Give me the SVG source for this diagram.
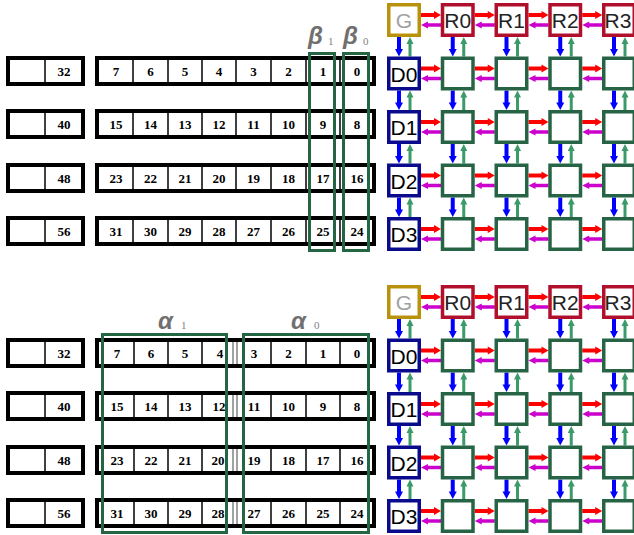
<svg xmlns="http://www.w3.org/2000/svg" xmlns:xlink="http://www.w3.org/1999/xlink" width="634" height="535" viewBox="0 0 634 535">
<style>
.rowbox{fill:#fff;stroke:#000;stroke-width:4}
.div{stroke:#000;stroke-width:1.5}
.divg{stroke:#444;stroke-width:1}
.num{font-family:"Liberation Serif",serif;font-weight:bold;font-size:13px;text-anchor:middle;fill:#000}
.sel{fill:none;stroke:#246644;stroke-width:3}
.greek{font-family:"Liberation Sans",Arial,sans-serif;font-weight:bold;font-style:italic;font-size:24px;fill:#707070}
.sub{font-family:"Liberation Serif",serif;font-size:11px;fill:#808080}
.gb{fill:#fff;stroke:#b8920c;stroke-width:3.5}
.rb{fill:#fff;stroke:#b0102c;stroke-width:3.5}
.db{fill:#fff;stroke:#0a0a8c;stroke-width:3.5}
.nb{fill:#fff;stroke:#276446;stroke-width:3.5}
.lbl{font-family:"Liberation Sans",Arial,sans-serif;font-size:21px;text-anchor:middle;fill:#222}
</style>
<defs>
<g id="hpair">
<line x1="0" y1="12" x2="14" y2="12" stroke="#ff0000" stroke-width="4"/>
<polygon points="13,8 20,12 13,16" fill="#ff0000"/>
<polygon points="0,22 7,18.5 7,25.5" fill="#cc00cc"/>
<line x1="6" y1="22" x2="20" y2="22" stroke="#cc00cc" stroke-width="3.5"/>
</g>
<g id="vpair">
<line x1="12" y1="0" x2="12" y2="13" stroke="#0000ff" stroke-width="4"/>
<polygon points="8,12 12,19.5 16,12" fill="#0000ff"/>
<polygon points="23,0 19.5,7 26.5,7" fill="#3a9a6a"/>
<line x1="23" y1="6" x2="23" y2="19.5" stroke="#3a9a6a" stroke-width="3"/>
</g>
</defs>
<rect width="634" height="535" fill="#fff"/>

<!-- TOP SECTION: register rows -->
<g id="top-rows">
<g id="t-row0">
<rect class="rowbox" x="8" y="58" width="75" height="26"/><line class="div" x1="45" y1="58" x2="45" y2="84"/>
<text class="num" x="64" y="75.5">32</text>
<rect class="rowbox" x="97" y="58" width="277" height="26"/>
<line class="div" x1="133" y1="58" x2="133" y2="84"/><line class="div" x1="168" y1="58" x2="168" y2="84"/><line class="div" x1="202" y1="58" x2="202" y2="84"/><line class="div" x1="236" y1="58" x2="236" y2="84"/><line class="div" x1="271" y1="58" x2="271" y2="84"/><line class="div" x1="306" y1="58" x2="306" y2="84"/><line class="div" x1="340" y1="58" x2="340" y2="84"/>
<text class="num" x="116" y="75.5">7</text><text class="num" x="150.5" y="75.5">6</text><text class="num" x="185" y="75.5">5</text><text class="num" x="219" y="75.5">4</text><text class="num" x="253.5" y="75.5">3</text><text class="num" x="288.5" y="75.5">2</text><text class="num" x="323" y="75.5">1</text><text class="num" x="357" y="75.5">0</text>
</g>
<g id="t-row1">
<rect class="rowbox" x="8" y="111" width="75" height="26"/><line class="div" x1="45" y1="111" x2="45" y2="137"/>
<text class="num" x="64" y="128.5">40</text>
<rect class="rowbox" x="97" y="111" width="277" height="26"/>
<line class="div" x1="133" y1="111" x2="133" y2="137"/><line class="div" x1="168" y1="111" x2="168" y2="137"/><line class="div" x1="202" y1="111" x2="202" y2="137"/><line class="div" x1="236" y1="111" x2="236" y2="137"/><line class="div" x1="271" y1="111" x2="271" y2="137"/><line class="div" x1="306" y1="111" x2="306" y2="137"/><line class="div" x1="340" y1="111" x2="340" y2="137"/>
<text class="num" x="116" y="128.5">15</text><text class="num" x="150.5" y="128.5">14</text><text class="num" x="185" y="128.5">13</text><text class="num" x="219" y="128.5">12</text><text class="num" x="253.5" y="128.5">11</text><text class="num" x="288.5" y="128.5">10</text><text class="num" x="323" y="128.5">9</text><text class="num" x="357" y="128.5">8</text>
</g>
<g id="t-row2">
<rect class="rowbox" x="8" y="165" width="75" height="26"/><line class="div" x1="45" y1="165" x2="45" y2="191"/>
<text class="num" x="64" y="182.5">48</text>
<rect class="rowbox" x="97" y="165" width="277" height="26"/>
<line class="div" x1="133" y1="165" x2="133" y2="191"/><line class="div" x1="168" y1="165" x2="168" y2="191"/><line class="div" x1="202" y1="165" x2="202" y2="191"/><line class="div" x1="236" y1="165" x2="236" y2="191"/><line class="div" x1="271" y1="165" x2="271" y2="191"/><line class="div" x1="306" y1="165" x2="306" y2="191"/><line class="div" x1="340" y1="165" x2="340" y2="191"/>
<text class="num" x="116" y="182.5">23</text><text class="num" x="150.5" y="182.5">22</text><text class="num" x="185" y="182.5">21</text><text class="num" x="219" y="182.5">20</text><text class="num" x="253.5" y="182.5">19</text><text class="num" x="288.5" y="182.5">18</text><text class="num" x="323" y="182.5">17</text><text class="num" x="357" y="182.5">16</text>
</g>
<g id="t-row3">
<rect class="rowbox" x="8" y="218" width="75" height="26"/><line class="div" x1="45" y1="218" x2="45" y2="244"/>
<text class="num" x="64" y="235.5">56</text>
<rect class="rowbox" x="97" y="218" width="277" height="26"/>
<line class="div" x1="133" y1="218" x2="133" y2="244"/><line class="div" x1="168" y1="218" x2="168" y2="244"/><line class="div" x1="202" y1="218" x2="202" y2="244"/><line class="div" x1="236" y1="218" x2="236" y2="244"/><line class="div" x1="271" y1="218" x2="271" y2="244"/><line class="div" x1="306" y1="218" x2="306" y2="244"/><line class="div" x1="340" y1="218" x2="340" y2="244"/>
<text class="num" x="116" y="235.5">31</text><text class="num" x="150.5" y="235.5">30</text><text class="num" x="185" y="235.5">29</text><text class="num" x="219" y="235.5">28</text><text class="num" x="253.5" y="235.5">27</text><text class="num" x="288.5" y="235.5">26</text><text class="num" x="323" y="235.5">25</text><text class="num" x="357" y="235.5">24</text>
</g>
</g>
<g id="beta1"><rect class="sel" x="309.5" y="53.5" width="25" height="197"/><text class="greek" x="308" y="44">β</text><text class="sub" x="328" y="45">1</text></g>
<g id="beta0"><rect class="sel" x="343.5" y="53.5" width="25" height="197"/><text class="greek" x="343" y="44">β</text><text class="sub" x="363" y="45">0</text></g>

<!-- BOTTOM SECTION: register rows -->
<g id="bottom-rows">
<g id="b-row0">
<rect class="rowbox" x="8" y="340" width="75" height="26"/><line class="div" x1="45" y1="340" x2="45" y2="366"/>
<text class="num" x="64" y="357.5">32</text>
<rect class="rowbox" x="97" y="340" width="277" height="26"/>
<line class="div" x1="134" y1="340" x2="134" y2="366"/><line class="div" x1="168" y1="340" x2="168" y2="366"/><line class="div" x1="202" y1="340" x2="202" y2="366"/><line class="divg" x1="233" y1="342" x2="233" y2="364"/><line class="divg" x1="237" y1="342" x2="237" y2="364"/><line class="div" x1="271" y1="340" x2="271" y2="366"/><line class="div" x1="306" y1="340" x2="306" y2="366"/><line class="div" x1="340" y1="340" x2="340" y2="366"/>
<text class="num" x="117" y="357.5">7</text><text class="num" x="151" y="357.5">6</text><text class="num" x="185" y="357.5">5</text><text class="num" x="220" y="357.5">4</text><text class="num" x="254" y="357.5">3</text><text class="num" x="288.5" y="357.5">2</text><text class="num" x="323" y="357.5">1</text><text class="num" x="357" y="357.5">0</text>
</g>
<g id="b-row1">
<rect class="rowbox" x="8" y="393" width="75" height="26"/><line class="div" x1="45" y1="393" x2="45" y2="419"/>
<text class="num" x="64" y="410.5">40</text>
<rect class="rowbox" x="97" y="393" width="277" height="26"/>
<line class="div" x1="134" y1="393" x2="134" y2="419"/><line class="div" x1="168" y1="393" x2="168" y2="419"/><line class="div" x1="202" y1="393" x2="202" y2="419"/><line class="divg" x1="233" y1="395" x2="233" y2="417"/><line class="divg" x1="237" y1="395" x2="237" y2="417"/><line class="div" x1="271" y1="393" x2="271" y2="419"/><line class="div" x1="306" y1="393" x2="306" y2="419"/><line class="div" x1="340" y1="393" x2="340" y2="419"/>
<text class="num" x="117" y="410.5">15</text><text class="num" x="151" y="410.5">14</text><text class="num" x="185" y="410.5">13</text><text class="num" x="219" y="410.5">12</text><text class="num" x="254" y="410.5">11</text><text class="num" x="288.5" y="410.5">10</text><text class="num" x="323" y="410.5">9</text><text class="num" x="357" y="410.5">8</text>
</g>
<g id="b-row2">
<rect class="rowbox" x="8" y="447" width="75" height="26"/><line class="div" x1="45" y1="447" x2="45" y2="473"/>
<text class="num" x="64" y="464.5">48</text>
<rect class="rowbox" x="97" y="447" width="277" height="26"/>
<line class="div" x1="134" y1="447" x2="134" y2="473"/><line class="div" x1="168" y1="447" x2="168" y2="473"/><line class="div" x1="202" y1="447" x2="202" y2="473"/><line class="divg" x1="233" y1="449" x2="233" y2="471"/><line class="divg" x1="237" y1="449" x2="237" y2="471"/><line class="div" x1="271" y1="447" x2="271" y2="473"/><line class="div" x1="306" y1="447" x2="306" y2="473"/><line class="div" x1="340" y1="447" x2="340" y2="473"/>
<text class="num" x="117" y="464.5">23</text><text class="num" x="151" y="464.5">22</text><text class="num" x="185" y="464.5">21</text><text class="num" x="218" y="464.5">20</text><text class="num" x="254" y="464.5">19</text><text class="num" x="288.5" y="464.5">18</text><text class="num" x="323" y="464.5">17</text><text class="num" x="357" y="464.5">16</text>
</g>
<g id="b-row3">
<rect class="rowbox" x="8" y="500" width="75" height="26"/><line class="div" x1="45" y1="500" x2="45" y2="526"/>
<text class="num" x="64" y="517.5">56</text>
<rect class="rowbox" x="97" y="500" width="277" height="26"/>
<line class="div" x1="134" y1="500" x2="134" y2="526"/><line class="div" x1="168" y1="500" x2="168" y2="526"/><line class="div" x1="202" y1="500" x2="202" y2="526"/><line class="divg" x1="233" y1="502" x2="233" y2="524"/><line class="divg" x1="237" y1="502" x2="237" y2="524"/><line class="div" x1="271" y1="500" x2="271" y2="526"/><line class="div" x1="306" y1="500" x2="306" y2="526"/><line class="div" x1="340" y1="500" x2="340" y2="526"/>
<text class="num" x="117" y="517.5">31</text><text class="num" x="151" y="517.5">30</text><text class="num" x="185" y="517.5">29</text><text class="num" x="218" y="517.5">28</text><text class="num" x="254" y="517.5">27</text><text class="num" x="288.5" y="517.5">26</text><text class="num" x="323" y="517.5">25</text><text class="num" x="357" y="517.5">24</text>
</g>
</g>
<g id="alpha1"><rect class="sel" x="102.5" y="334.5" width="124" height="198"/><text class="greek" x="158" y="329">α</text><text class="sub" x="181" y="329">1</text></g>
<g id="alpha0"><rect class="sel" x="243.5" y="334.5" width="125" height="198"/><text class="greek" x="291" y="329">α</text><text class="sub" x="314" y="329">0</text></g>

<!-- CONNECTORS -->
<g id="connectors">
<use xlink:href="#hpair" x="421" y="3"/><use xlink:href="#hpair" x="474.75" y="3"/><use xlink:href="#hpair" x="528.5" y="3"/><use xlink:href="#hpair" x="582.25" y="3"/>
<use xlink:href="#hpair" x="421" y="56.5"/><use xlink:href="#hpair" x="474.75" y="56.5"/><use xlink:href="#hpair" x="528.5" y="56.5"/><use xlink:href="#hpair" x="582.25" y="56.5"/>
<use xlink:href="#hpair" x="421" y="110"/><use xlink:href="#hpair" x="474.75" y="110"/><use xlink:href="#hpair" x="528.5" y="110"/><use xlink:href="#hpair" x="582.25" y="110"/>
<use xlink:href="#hpair" x="421" y="163.5"/><use xlink:href="#hpair" x="474.75" y="163.5"/><use xlink:href="#hpair" x="528.5" y="163.5"/><use xlink:href="#hpair" x="582.25" y="163.5"/>
<use xlink:href="#hpair" x="421" y="217"/><use xlink:href="#hpair" x="474.75" y="217"/><use xlink:href="#hpair" x="528.5" y="217"/><use xlink:href="#hpair" x="582.25" y="217"/>
<use xlink:href="#vpair" x="387" y="37"/><use xlink:href="#vpair" x="440.75" y="37"/><use xlink:href="#vpair" x="494.5" y="37"/><use xlink:href="#vpair" x="548.25" y="37"/><use xlink:href="#vpair" x="602" y="37"/>
<use xlink:href="#vpair" x="387" y="90.5"/><use xlink:href="#vpair" x="440.75" y="90.5"/><use xlink:href="#vpair" x="494.5" y="90.5"/><use xlink:href="#vpair" x="548.25" y="90.5"/><use xlink:href="#vpair" x="602" y="90.5"/>
<use xlink:href="#vpair" x="387" y="144"/><use xlink:href="#vpair" x="440.75" y="144"/><use xlink:href="#vpair" x="494.5" y="144"/><use xlink:href="#vpair" x="548.25" y="144"/><use xlink:href="#vpair" x="602" y="144"/>
<use xlink:href="#vpair" x="387" y="197.5"/><use xlink:href="#vpair" x="440.75" y="197.5"/><use xlink:href="#vpair" x="494.5" y="197.5"/><use xlink:href="#vpair" x="548.25" y="197.5"/><use xlink:href="#vpair" x="602" y="197.5"/>
<use xlink:href="#hpair" x="421" y="285"/><use xlink:href="#hpair" x="474.75" y="285"/><use xlink:href="#hpair" x="528.5" y="285"/><use xlink:href="#hpair" x="582.25" y="285"/>
<use xlink:href="#hpair" x="421" y="338.5"/><use xlink:href="#hpair" x="474.75" y="338.5"/><use xlink:href="#hpair" x="528.5" y="338.5"/><use xlink:href="#hpair" x="582.25" y="338.5"/>
<use xlink:href="#hpair" x="421" y="392"/><use xlink:href="#hpair" x="474.75" y="392"/><use xlink:href="#hpair" x="528.5" y="392"/><use xlink:href="#hpair" x="582.25" y="392"/>
<use xlink:href="#hpair" x="421" y="445.5"/><use xlink:href="#hpair" x="474.75" y="445.5"/><use xlink:href="#hpair" x="528.5" y="445.5"/><use xlink:href="#hpair" x="582.25" y="445.5"/>
<use xlink:href="#hpair" x="421" y="499"/><use xlink:href="#hpair" x="474.75" y="499"/><use xlink:href="#hpair" x="528.5" y="499"/><use xlink:href="#hpair" x="582.25" y="499"/>
<use xlink:href="#vpair" x="387" y="319"/><use xlink:href="#vpair" x="440.75" y="319"/><use xlink:href="#vpair" x="494.5" y="319"/><use xlink:href="#vpair" x="548.25" y="319"/><use xlink:href="#vpair" x="602" y="319"/>
<use xlink:href="#vpair" x="387" y="372.5"/><use xlink:href="#vpair" x="440.75" y="372.5"/><use xlink:href="#vpair" x="494.5" y="372.5"/><use xlink:href="#vpair" x="548.25" y="372.5"/><use xlink:href="#vpair" x="602" y="372.5"/>
<use xlink:href="#vpair" x="387" y="426"/><use xlink:href="#vpair" x="440.75" y="426"/><use xlink:href="#vpair" x="494.5" y="426"/><use xlink:href="#vpair" x="548.25" y="426"/><use xlink:href="#vpair" x="602" y="426"/>
<use xlink:href="#vpair" x="387" y="479.5"/><use xlink:href="#vpair" x="440.75" y="479.5"/><use xlink:href="#vpair" x="494.5" y="479.5"/><use xlink:href="#vpair" x="548.25" y="479.5"/><use xlink:href="#vpair" x="602" y="479.5"/>
</g>

<!-- TOP GRID NODES -->
<g id="top-grid">
<g id="t-G"><rect class="gb" x="388.75" y="4.75" width="30.5" height="30.5"/><text class="lbl" x="404" y="28" style="fill:#a0a0a0">G</text></g>
<g id="t-R0"><rect class="rb" x="442.5" y="4.75" width="30.5" height="30.5"/><text class="lbl" x="457.75" y="28">R0</text></g>
<g id="t-R1"><rect class="rb" x="496.25" y="4.75" width="30.5" height="30.5"/><text class="lbl" x="511.5" y="28">R1</text></g>
<g id="t-R2"><rect class="rb" x="550" y="4.75" width="30.5" height="30.5"/><text class="lbl" x="565.25" y="28">R2</text></g>
<g id="t-R3"><rect class="rb" x="603.75" y="4.75" width="30.5" height="30.5"/><text class="lbl" x="618" y="28">R3</text></g>
<g id="t-D0"><rect class="db" x="388.75" y="58.25" width="30.5" height="30.5"/><text class="lbl" x="404" y="81.5" style="fill:#000">D0</text></g>
<g id="t-D1"><rect class="db" x="388.75" y="111.75" width="30.5" height="30.5"/><text class="lbl" x="404" y="135" style="fill:#000">D1</text></g>
<g id="t-D2"><rect class="db" x="388.75" y="165.25" width="30.5" height="30.5"/><text class="lbl" x="404" y="188.5" style="fill:#000">D2</text></g>
<g id="t-D3"><rect class="db" x="388.75" y="218.75" width="30.5" height="30.5"/><text class="lbl" x="404" y="242" style="fill:#000">D3</text></g>
<g id="t-cells">
<rect class="nb" x="442.5" y="58.25" width="30.5" height="30.5"/><rect class="nb" x="496.25" y="58.25" width="30.5" height="30.5"/><rect class="nb" x="550" y="58.25" width="30.5" height="30.5"/><rect class="nb" x="603.75" y="58.25" width="30.5" height="30.5"/>
<rect class="nb" x="442.5" y="111.75" width="30.5" height="30.5"/><rect class="nb" x="496.25" y="111.75" width="30.5" height="30.5"/><rect class="nb" x="550" y="111.75" width="30.5" height="30.5"/><rect class="nb" x="603.75" y="111.75" width="30.5" height="30.5"/>
<rect class="nb" x="442.5" y="165.25" width="30.5" height="30.5"/><rect class="nb" x="496.25" y="165.25" width="30.5" height="30.5"/><rect class="nb" x="550" y="165.25" width="30.5" height="30.5"/><rect class="nb" x="603.75" y="165.25" width="30.5" height="30.5"/>
<rect class="nb" x="442.5" y="218.75" width="30.5" height="30.5"/><rect class="nb" x="496.25" y="218.75" width="30.5" height="30.5"/><rect class="nb" x="550" y="218.75" width="30.5" height="30.5"/><rect class="nb" x="603.75" y="218.75" width="30.5" height="30.5"/>
</g>
</g>

<!-- BOTTOM GRID NODES -->
<g id="bottom-grid">
<g id="b-G"><rect class="gb" x="388.75" y="286.75" width="30.5" height="30.5"/><text class="lbl" x="404" y="310" style="fill:#a0a0a0">G</text></g>
<g id="b-R0"><rect class="rb" x="442.5" y="286.75" width="30.5" height="30.5"/><text class="lbl" x="457.75" y="310">R0</text></g>
<g id="b-R1"><rect class="rb" x="496.25" y="286.75" width="30.5" height="30.5"/><text class="lbl" x="511.5" y="310">R1</text></g>
<g id="b-R2"><rect class="rb" x="550" y="286.75" width="30.5" height="30.5"/><text class="lbl" x="565.25" y="310">R2</text></g>
<g id="b-R3"><rect class="rb" x="603.75" y="286.75" width="30.5" height="30.5"/><text class="lbl" x="618" y="310">R3</text></g>
<g id="b-D0"><rect class="db" x="388.75" y="340.25" width="30.5" height="30.5"/><text class="lbl" x="404" y="363.5" style="fill:#000">D0</text></g>
<g id="b-D1"><rect class="db" x="388.75" y="393.75" width="30.5" height="30.5"/><text class="lbl" x="404" y="417" style="fill:#000">D1</text></g>
<g id="b-D2"><rect class="db" x="388.75" y="447.25" width="30.5" height="30.5"/><text class="lbl" x="404" y="470.5" style="fill:#000">D2</text></g>
<g id="b-D3"><rect class="db" x="388.75" y="500.75" width="30.5" height="30.5"/><text class="lbl" x="404" y="524" style="fill:#000">D3</text></g>
<g id="b-cells">
<rect class="nb" x="442.5" y="340.25" width="30.5" height="30.5"/><rect class="nb" x="496.25" y="340.25" width="30.5" height="30.5"/><rect class="nb" x="550" y="340.25" width="30.5" height="30.5"/><rect class="nb" x="603.75" y="340.25" width="30.5" height="30.5"/>
<rect class="nb" x="442.5" y="393.75" width="30.5" height="30.5"/><rect class="nb" x="496.25" y="393.75" width="30.5" height="30.5"/><rect class="nb" x="550" y="393.75" width="30.5" height="30.5"/><rect class="nb" x="603.75" y="393.75" width="30.5" height="30.5"/>
<rect class="nb" x="442.5" y="447.25" width="30.5" height="30.5"/><rect class="nb" x="496.25" y="447.25" width="30.5" height="30.5"/><rect class="nb" x="550" y="447.25" width="30.5" height="30.5"/><rect class="nb" x="603.75" y="447.25" width="30.5" height="30.5"/>
<rect class="nb" x="442.5" y="500.75" width="30.5" height="30.5"/><rect class="nb" x="496.25" y="500.75" width="30.5" height="30.5"/><rect class="nb" x="550" y="500.75" width="30.5" height="30.5"/><rect class="nb" x="603.75" y="500.75" width="30.5" height="30.5"/>
</g>
</g>
</svg>
